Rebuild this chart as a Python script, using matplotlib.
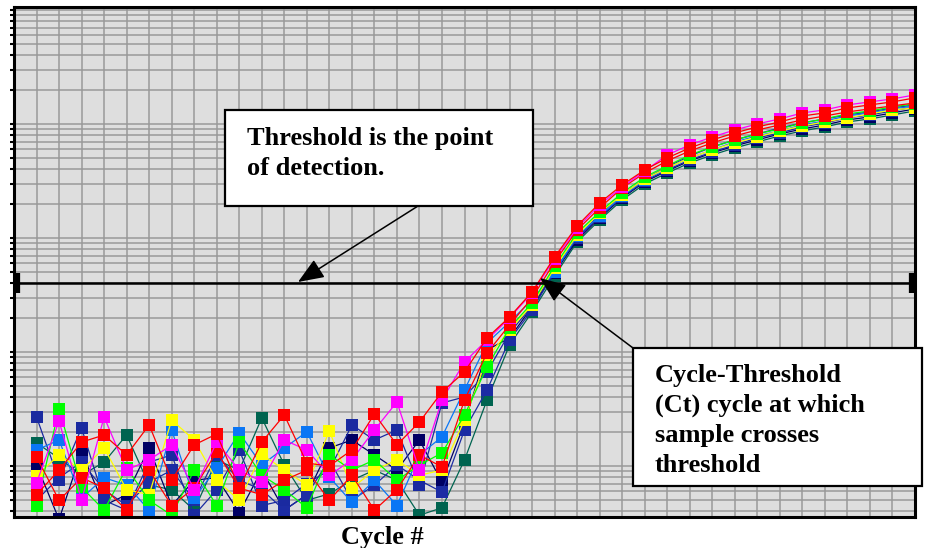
import matplotlib
matplotlib.use("Agg")
import matplotlib.pyplot as plt
from matplotlib.patches import Rectangle, FancyArrowPatch
from matplotlib.ticker import MultipleLocator, LogLocator, NullFormatter

# data: fluorescence per cycle (log scale)
cycles = list(range(1, 41))
red = [56, 92, 162, 187, 125, 229, 75, 153, 191, 64, 162, 280, 106, 100, 138, 286, 153, 243,
       446, 668, 1327, 2028, 3360, 6812, 12740, 20280, 29170, 39470, 50320, 61600, 72420,
       83370, 94180, 104100, 117500, 124900, 138100, 146800, 156000, 169100]
red2 = [120, 50, 79, 64, 41, 92, 45, 64, 133, 64, 56, 75, 92, 50, 83, 41, 62, 125,
        98, 379, 980, 1726, 2976, 6154, 11750, 18330, 27460, 37140, 47360, 57940, 68130,
        78510, 88510, 98020, 108400, 117500, 127400, 135400, 143900, 152800]
magenta = [71, 248, 50, 269, 92, 113, 153, 62, 162, 92, 73, 169, 138, 83, 113, 207, 364, 92,
           379, 817, 1274, 1988, 3293, 6543, 12240, 19480, 28000, 38700, 53460, 65460, 76860,
           88510, 100000, 110600, 124900, 132700, 146800, 156000, 165700, 179700]
blue2 = [50, 79, 108, 62, 45, 72, 92, 50, 125, 75, 62, 41, 56, 113, 50, 68, 102, 75,
         59, 207, 464, 1274, 2336, 5032, 10000, 16240, 23840, 32920, 41960, 52370, 62830,
         72420, 81700, 92240, 102000, 110600, 119900, 127400, 138100, 146800]
green = [45, 316, 65, 41, 96, 50, 37, 92, 45, 162, 83, 62, 43, 125, 92, 113, 75, 102,
         130, 280, 739, 1623, 2691, 5677, 11060, 16910, 24830, 34260, 42810, 53460, 62830,
         72420, 81700, 90310, 102000, 110600, 122400, 130000, 141000, 149800]
yellow = [82, 125, 92, 144, 62, 56, 253, 169, 75, 50, 127, 92, 68, 203, 64, 92, 113, 83,
          92, 253, 886, 1560, 2584, 5453, 10620, 16570, 23840, 32920, 41120, 50320, 59140,
          68130, 76860, 86850, 96000, 104100, 112900, 122400, 132700, 138100]
azure = [138, 169, 52, 79, 68, 41, 207, 52, 96, 195, 102, 144, 199, 80, 48, 75, 45, 125,
         180, 464, 1199, 1834, 2858, 5032, 10410, 15600, 23360, 32270, 41120, 50320, 59140,
         69500, 78510, 86850, 98020, 106200, 117500, 124900, 135400, 143900]
darkblue = [269, 75, 215, 50, 41, 108, 125, 37, 62, 138, 45, 50, 70, 92, 229, 169, 207, 68,
            357, 403, 668, 1468, 2533, 5240, 10000, 15280, 22880, 31620, 39470, 48310, 56770,
            65460, 75340, 83370, 94180, 102000, 112900, 119900, 130000, 141000]
navy = [102, 34, 133, 45, 56, 144, 45, 75, 79, 39, 92, 41, 56, 144, 169, 125, 92, 169,
        72, 238, 1041, 1327, 2483, 4934, 9600, 14970, 22420, 30990, 38700, 47360, 55670,
        64120, 72420, 81700, 90310, 98020, 108400, 115200, 124900, 135400]
teal = [159, 117, 83, 108, 187, 68, 62, 41, 113, 92, 264, 102, 50, 57, 75, 92, 75, 37,
        43, 113, 379, 1152, 2244, 4642, 9220, 14380, 21540, 29760, 37140, 45470, 53460,
        61600, 69500, 78510, 86850, 94180, 104100, 110600, 119900, 130000]

threshold = 4000

# drawing order: last one on top
series = [
    (teal, "#006450"),
    (navy, "#000064"),
    (blue2, "#1c2ca4"),
    (darkblue, "#1a2aa0"),
    (azure, "#0a76f5"),
    (yellow, "#ffff00"),
    (green, "#00ff00"),
    (red2, "#ff0000"),
    (magenta, "#ff00ff"),
    (red, "#ff0000"),
]

box1_lines = ["Threshold is the point", "of detection."]
box2_lines = ["Cycle-Threshold", "(Ct) cycle at which", "sample crosses", "threshold"]
xlabel = "Cycle #"

W, H = 925, 548


def fx(x):
    return x / W


def fy(y):
    return 1 - y / H


fig = plt.figure(figsize=(W / 100, H / 100), dpi=100)
ax = fig.add_axes([fx(14), fy(517), fx(915) - fx(14), fy(7) - fy(517)])
ax.set_facecolor("#dedede")
ax.set_yscale("log")
ax.set_xlim(0, 40)
ax.set_ylim(35.7, 1.06e6)

ax.xaxis.set_major_locator(MultipleLocator(1))
ax.yaxis.set_major_locator(LogLocator(base=10))
ax.yaxis.set_minor_locator(LogLocator(base=10, subs=range(2, 10)))
ax.yaxis.set_minor_formatter(NullFormatter())
ax.tick_params(axis="x", length=0, labelbottom=False)
ax.tick_params(axis="y", which="both", direction="out", length=3, width=1.5,
               labelleft=False)
ax.grid(True, which="both", axis="y", color="#999999", lw=1.1)
ax.grid(True, which="major", axis="x", color="#999999", lw=1.1)
ax.set_axisbelow(True)
for s in ax.spines.values():
    s.set_linewidth(2.2)
    s.set_color("black")

for vals, col in series:
    ax.plot(cycles, vals, color=col, lw=0.9, marker="s", ms=8.8, mew=0)

ax.axhline(threshold, color="black", lw=1.8, zorder=5)
ax.plot([0.15, 39.85], [threshold, threshold], ls="none", marker="|", ms=14, mew=4.5,
        color="black", clip_on=False, zorder=6)

# annotation boxes
fig.add_artist(Rectangle((fx(225), fy(206)), fx(533) - fx(225), fy(110) - fy(206),
                         transform=fig.transFigure, fc="white", ec="black", lw=1.6,
                         zorder=3))
fig.add_artist(Rectangle((fx(633), fy(486)), fx(922) - fx(633), fy(348) - fy(486),
                         transform=fig.transFigure, fc="white", ec="black", lw=1.6,
                         zorder=3))

font = dict(family="Liberation Serif", weight="bold", size=19, color="black", zorder=4)
for i, line in enumerate(box1_lines):
    fig.text(fx(247), fy(145 + 30 * i), line, ha="left", va="baseline", **font)
for i, line in enumerate(box2_lines):
    fig.text(fx(655), fy(382 + 30 * i), line, ha="left", va="baseline", **font)
fig.text(fx(382), fy(544), xlabel, ha="center", va="baseline", **font)

# arrows
for tail, tip in [((418, 206), (298, 282)), ((633, 348), (540, 278))]:
    fig.add_artist(FancyArrowPatch((fx(tail[0]), fy(tail[1])), (fx(tip[0]), fy(tip[1])),
                                   transform=fig.transFigure,
                                   arrowstyle="-|>,head_length=0.8,head_width=0.32",
                                   mutation_scale=20, lw=1.1, color="black",
                                   shrinkA=0, shrinkB=0, zorder=5))

fig.savefig("out.png", dpi=100)
